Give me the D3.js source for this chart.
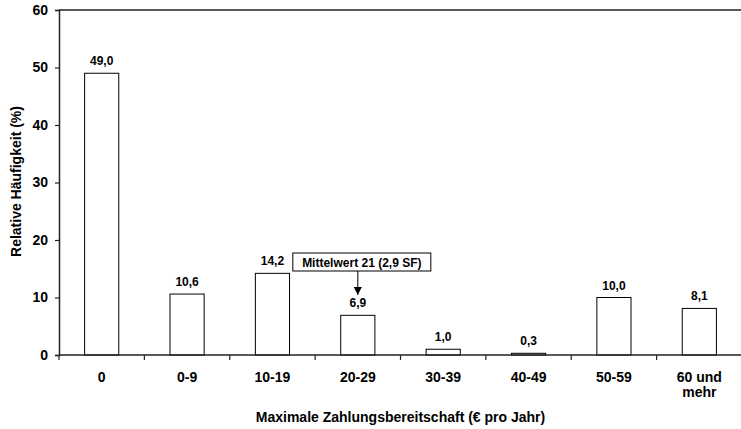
<!DOCTYPE html>
<html>
<head>
<meta charset="utf-8">
<script src="https://cdn.jsdelivr.net/npm/d3@7"></script>
<style>
  body { margin: 0; background: #fff; }
  text { font-family: "Liberation Sans", Arial, sans-serif; font-weight: bold; fill: #000; }
</style>
</head>
<body>
<div id="chart"></div>
<script>
const categories = ["0", "0-9", "10-19", "20-29", "30-39", "40-49", "50-59", "60 und\nmehr"];
const values = [49.0, 10.6, 14.2, 6.9, 1.0, 0.3, 10.0, 8.1];
const yTicks = [0, 10, 20, 30, 40, 50, 60];
const annotation = { category: "20-29", text: "Mittelwert 21 (2,9 SF)" };

const W = 741, H = 429;
const margin = { top: 10, right: -1, bottom: 74, left: 59 };
const width = W - margin.left - margin.right;
const height = H - margin.top - margin.bottom;

const svg = d3.select("#chart").append("svg")
  .attr("width", W)
  .attr("height", H);

const g = svg.append("g")
  .attr("transform", `translate(${margin.left},${margin.top})`);

const x = d3.scaleBand()
  .domain(categories)
  .range([0, width])
  .paddingInner(0.6)
  .paddingOuter(0.3);

const y = d3.scaleLinear()
  .domain([0, 60])
  .range([height, 0]);

const fmt = v => v.toFixed(1).replace(".", ",");

// top border
g.append("line")
  .attr("x1", 0).attr("x2", width + 5)
  .attr("y1", 0).attr("y2", 0)
  .attr("stroke", "#222")
  .attr("stroke-width", 1.5);

// bars
g.selectAll("rect.bar")
  .data(values)
  .enter()
  .append("rect")
  .attr("class", "bar")
  .attr("x", (d, i) => x(categories[i]))
  .attr("y", d => y(d))
  .attr("width", x.bandwidth())
  .attr("height", d => height - y(d))
  .attr("fill", "#fff")
  .attr("stroke", "#000")
  .attr("stroke-width", 1);

// value labels
g.selectAll("text.val")
  .data(values)
  .enter()
  .append("text")
  .attr("class", "val")
  .attr("x", (d, i) => x(categories[i]) + x.bandwidth() / 2)
  .attr("y", d => y(d) - 8)
  .attr("text-anchor", "middle")
  .attr("font-size", "12px")
  .text(d => fmt(d));

// Y axis
const yAxis = g.append("g")
  .call(d3.axisLeft(y).tickValues(yTicks).tickSize(4).tickPadding(7));
yAxis.select(".domain").attr("stroke", "#222").attr("stroke-width", 1.5);
yAxis.selectAll(".tick line").attr("stroke", "#222").attr("stroke-width", 1.2);
yAxis.selectAll(".tick text")
  .attr("font-size", "14px")
  .attr("font-family", "Liberation Sans, Arial, sans-serif")
  .attr("font-weight", "bold");

// X axis: baseline with ticks on category boundaries
const step = x.step();
const xBase = g.append("g").attr("transform", `translate(0,${height})`);
xBase.append("line")
  .attr("x1", 0).attr("x2", width + 5)
  .attr("stroke", "#222").attr("stroke-width", 1.5);
xBase.selectAll("line.tk")
  .data(d3.range(categories.length + 1))
  .enter()
  .append("line")
  .attr("class", "tk")
  .attr("x1", i => i * step).attr("x2", i => i * step)
  .attr("y1", 0).attr("y2", 5)
  .attr("stroke", "#222").attr("stroke-width", 1.2);

const xLabels = xBase.selectAll("text.cat")
  .data(categories)
  .enter()
  .append("text")
  .attr("class", "cat")
  .attr("x", d => x(d) + x.bandwidth() / 2)
  .attr("y", 27)
  .attr("text-anchor", "middle")
  .attr("font-size", "14px");
xLabels.each(function (d) {
  const t = d3.select(this);
  d.split("\n").forEach((line, i) => {
    t.append("tspan")
      .attr("x", x(d) + x.bandwidth() / 2)
      .attr("dy", i === 0 ? 0 : 15)
      .text(line);
  });
});

// axis titles
g.append("text")
  .attr("x", width / 2)
  .attr("y", height + 67)
  .attr("text-anchor", "middle")
  .attr("font-size", "14px")
  .text("Maximale Zahlungsbereitschaft (€ pro Jahr)");

g.append("text")
  .attr("transform", "rotate(-90)")
  .attr("x", -height / 2 + 1)
  .attr("y", -38)
  .attr("text-anchor", "middle")
  .attr("font-size", "14px")
  .text("Relative Häufigkeit (%)");

// annotation box with arrow
svg.append("defs").append("marker")
  .attr("id", "arrow")
  .attr("viewBox", "0 0 10 10")
  .attr("refX", 10).attr("refY", 5)
  .attr("markerWidth", 9).attr("markerHeight", 8)
  .attr("markerUnits", "userSpaceOnUse")
  .attr("orient", "auto")
  .append("path")
  .attr("d", "M0,0 L10,5 L0,10 Z")
  .attr("fill", "#000");

const ax = x(annotation.category) + x.bandwidth() / 2;
const boxX = ax - 65, boxY = 243, boxW = 138, boxH = 18;
const ann = g.append("g");
ann.append("rect")
  .attr("x", boxX).attr("y", boxY)
  .attr("width", boxW).attr("height", boxH)
  .attr("fill", "#fff").attr("stroke", "#000").attr("stroke-width", 1);
ann.append("text")
  .attr("x", boxX + boxW / 2)
  .attr("y", boxY + 13.5)
  .attr("text-anchor", "middle")
  .attr("font-size", "12px")
  .text(annotation.text);
ann.append("line")
  .attr("x1", ax).attr("x2", ax)
  .attr("y1", boxY + boxH).attr("y2", 285)
  .attr("stroke", "#000").attr("stroke-width", 1)
  .attr("marker-end", "url(#arrow)");
</script>
</body>
</html>
